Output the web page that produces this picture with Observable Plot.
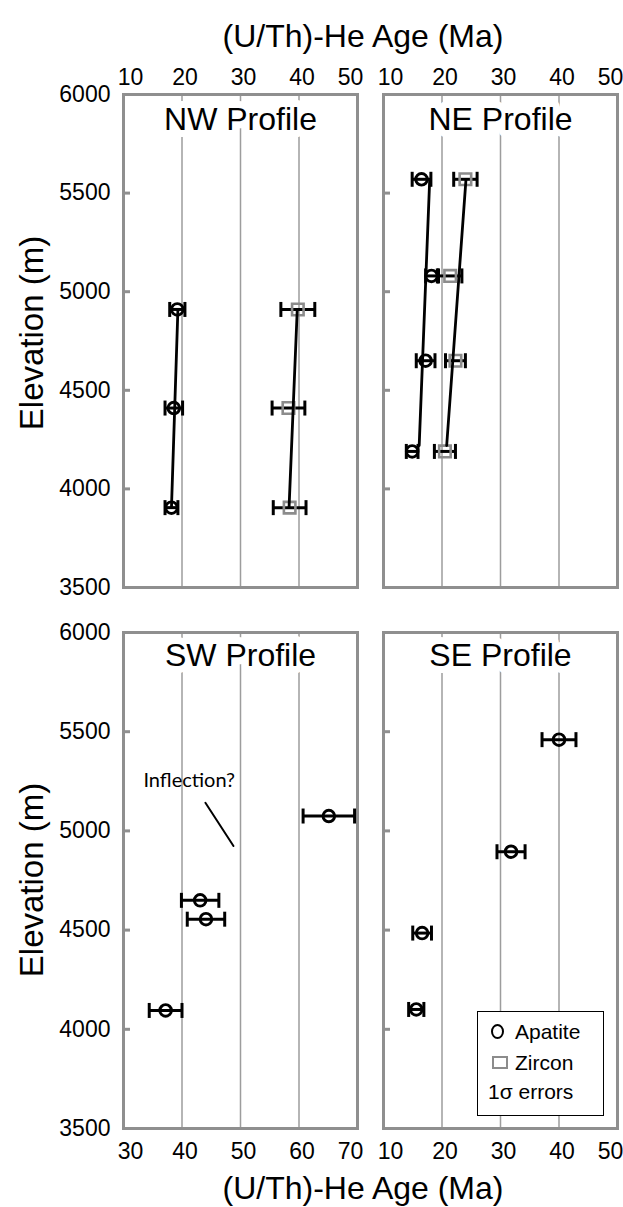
<!DOCTYPE html>
<html><head><meta charset="utf-8">
<script src="https://cdn.jsdelivr.net/npm/d3@7"></script>
<script src="https://cdn.jsdelivr.net/npm/@observablehq/plot@0.6"></script>
<style>
body{margin:0;background:#fff;}
#fig{position:relative;width:623px;height:1207px;overflow:hidden;font-family:"Liberation Sans",Arial,sans-serif;color:#000;}
.pane{position:absolute;}
.axtitle{position:absolute;font-size:32px;line-height:32px;white-space:nowrap;text-align:center;}
.ytitle{position:absolute;font-size:33px;line-height:34px;white-space:nowrap;text-align:center;width:320px;transform:translate(-50%,-50%) rotate(-90deg);}
#legend{position:absolute;left:477px;top:1011px;width:127px;height:105px;border:1.5px solid #000;background:#fff;font-size:21px;line-height:22px;box-sizing:border-box;}
#legend .row{position:absolute;white-space:nowrap;}
#legend .circ{position:absolute;width:9px;height:11px;border:2.8px solid #000;border-radius:50%;}
#legend .sq{position:absolute;width:12px;height:9px;border:2.5px solid #8c8c8c;}
</style></head><body><div id="fig"></div>
<script>
// ---------- data ----------
const xTicksA = [10, 20, 30, 40, 50];
const xTicksSW = [30, 40, 50, 60, 70];
const yTicks = [3500, 4000, 4500, 5000, 5500, 6000];
const panelTitles = ["NW Profile", "NE Profile", "SW Profile", "SE Profile"];
const axisTitleX = "(U/Th)-He Age (Ma)";
const axisTitleY = "Elevation (m)";
const legendNames = ["Apatite", "Zircon"];
const legendNote = "1σ errors";

// NW profile
const nwElev = [4910, 4410, 3905];
const nwApatiteAge = [19.2, 18.6, 18.2];
const nwApatiteErr = [1.3, 1.5, 1.1];
const nwZirconAge = [39.8, 38.2, 38.4];
const nwZirconErr = [2.9, 2.8, 2.8];
const nwFitElev = [4910, 3905];
const nwApatiteFitAge = [19.3, 18.2];
const nwZirconFitAge = [39.7, 38.3];

// NE profile
const neElev = [5570, 5080, 4650, 4190];
const neApatiteAge = [16.5, 18.2, 17.2, 14.9];
const neApatiteErr = [1.6, 1.0, 1.6, 1.0];
const neZirconAge = [24.0, 21.4, 22.3, 20.5];
const neZirconErr = [2.0, 2.0, 1.7, 1.8];
const neFitElev = [5570, 4220];
const neApatiteFitAge = [17.9, 16.1];
const neZirconFitAge = [24.1, 20.8];

// SW profile
const swElev = [5075, 4650, 4555, 4095];
const swApatiteAge = [65.1, 43.1, 44.1, 37.2];
const swApatiteErr = [4.4, 3.2, 3.2, 2.8];
const inflectionText = "Inflection?";
const inflectionTextAge = [33.4];
const inflectionTextElev = [5252];
const inflectionLineAge = [44.0, 48.8];
const inflectionLineElev = [5142, 4924];

// SE profile
const seElev = [5460, 4895, 4485, 4100];
const seApatiteAge = [40.0, 31.8, 16.6, 15.6];
const seApatiteErr = [2.9, 2.4, 1.6, 1.3];

// ---------- helpers ----------
const rows = (ages, errs, elevs) => ages.map((a, i) => ({age: a, err: errs ? errs[i] : 0, elev: elevs[i]}));
const capSymbol = {draw(ctx, size) { const r = Math.sqrt(size / Math.PI); ctx.moveTo(0, -r); ctx.lineTo(0, r); }};
const FRAME = "#8f8f8f";
const hasAxisMarks = typeof Plot.axisX === "function";

function xAxisMarks(ticks, anchor, pad) {
  const o = {anchor, tickSize: 0, tickPadding: pad, tickFormat: d => String(d), fontSize: 23, label: null};
  return [
    Plot.axisX([ticks[0]], {...o, dx: 7}),
    Plot.axisX(ticks.slice(1, -1), {...o, dx: 3}),
    Plot.axisX([ticks[ticks.length - 1]], {...o, dx: -7})
  ];
}

function panel(cfg) {
  const ap = cfg.apatite || [];
  const zr = cfg.zircon || [];
  const all = ap.concat(zr);
  const caps = all.flatMap(d => [{x: d.age - d.err, y: d.elev}, {x: d.age + d.err, y: d.elev}]);
  const plotW = cfg.width - cfg.mL - cfg.mR;
  const xPad = cfg.xAxis === "top" ? 10 : 14;
  const marks = [
    Plot.ruleX(cfg.grid, {stroke: "#9d9d9d", strokeWidth: 1.5}),
    Plot.text([cfg.title], {frameAnchor: "top", lineAnchor: "top", dy: cfg.titleDy, fontSize: 32,
      fill: "black", stroke: "white", strokeWidth: 14, strokeLinejoin: "round", paintOrder: "stroke"}),
    Plot.tickY(yTicks.slice(1, -1), {y: d => d, insetRight: plotW - 7, stroke: FRAME, strokeWidth: 3}),
    Plot.frame({stroke: FRAME, strokeWidth: 3})
  ];
  if (hasAxisMarks) marks.push(...xAxisMarks(cfg.xTicks, cfg.xAxis, xPad));
  if (cfg.extra) marks.push(...cfg.extra);
  marks.push(
    Plot.ruleY(all, {y: "elev", x1: d => d.age - d.err, x2: d => d.age + d.err, stroke: "black", strokeWidth: 3}),
    Plot.dot(caps, {x: "x", y: "y", symbol: capSymbol, r: 7.5, stroke: "black", strokeWidth: 3}),
    Plot.dot(ap, {x: "age", y: "elev", r: 5.8, stroke: "black", strokeWidth: 2.9, fill: "none"}),
    Plot.dot(zr, {x: "age", y: "elev", symbol: "square", r: 6.5, stroke: "#8c8c8c", strokeWidth: 2.6, fill: "none"})
  );
  for (const f of (cfg.fits || [])) marks.push(Plot.line(f, {x: "age", y: "elev", stroke: "black", strokeWidth: 2.8}));
  const xOpts = {domain: cfg.xDomain, ticks: cfg.xTicks, tickFormat: d => String(d), tickSize: 0, tickPadding: xPad, label: null};
  if (!hasAxisMarks) xOpts.axis = cfg.xAxis;
  const svg = Plot.plot({
    width: cfg.width, height: cfg.height,
    marginLeft: cfg.mL, marginRight: cfg.mR, marginTop: cfg.mT, marginBottom: cfg.mB,
    x: xOpts,
    y: {domain: [3500, 6000], ticks: yTicks, tickFormat: d => String(d), axis: cfg.yAxis ? "left" : null, tickSize: 0, tickPadding: 13, label: null},
    style: {fontFamily: "Liberation Sans, Arial, sans-serif", fontSize: "23px", background: "transparent", overflow: "visible", color: "black"},
    marks
  });
  const div = document.createElement("div");
  div.className = "pane";
  div.style.left = cfg.left + "px";
  div.style.top = cfg.top + "px";
  div.style.width = cfg.width + "px";
  div.appendChild(svg);
  return div;
}

const fig = document.getElementById("fig");

fig.appendChild(panel({
  left: 0, top: 50, width: 370, height: 560, mL: 123, mR: 13, mT: 44, mB: 23,
  xDomain: [10, 50], xTicks: xTicksA, grid: [20, 30, 40], xAxis: "top", yAxis: true,
  title: panelTitles[0], titleDy: 13,
  apatite: rows(nwApatiteAge, nwApatiteErr, nwElev),
  zircon: rows(nwZirconAge, nwZirconErr, nwElev),
  fits: [rows(nwApatiteFitAge, null, nwFitElev), rows(nwZirconFitAge, null, nwFitElev)]
}));
fig.appendChild(panel({
  left: 370, top: 50, width: 253, height: 560, mL: 13, mR: 6, mT: 44, mB: 23,
  xDomain: [10, 50], xTicks: xTicksA, grid: [20, 30, 40], xAxis: "top", yAxis: false,
  title: panelTitles[1], titleDy: 13,
  apatite: rows(neApatiteAge, neApatiteErr, neElev),
  zircon: rows(neZirconAge, neZirconErr, neElev),
  fits: [rows(neApatiteFitAge, null, neFitElev), rows(neZirconFitAge, null, neFitElev)]
}));
fig.appendChild(panel({
  left: 0, top: 610, width: 370, height: 560, mL: 123, mR: 13, mT: 22, mB: 42,
  xDomain: [30, 70], xTicks: xTicksSW, grid: [40, 50, 60], xAxis: "bottom", yAxis: true,
  title: panelTitles[2], titleDy: 11,
  apatite: rows(swApatiteAge, swApatiteErr, swElev),
  extra: [
    Plot.text(inflectionTextAge.map((a, i) => ({age: a, elev: inflectionTextElev[i], t: inflectionText})),
      {x: "age", y: "elev", text: "t", textAnchor: "start", fontSize: 20, fontFamily: "Lato, Open Sans, sans-serif", fill: "black"}),
    Plot.line(rows(inflectionLineAge, null, inflectionLineElev), {x: "age", y: "elev", stroke: "black", strokeWidth: 2})
  ]
}));
fig.appendChild(panel({
  left: 370, top: 610, width: 253, height: 560, mL: 13, mR: 6, mT: 22, mB: 42,
  xDomain: [10, 50], xTicks: xTicksA, grid: [20, 30, 40], xAxis: "bottom", yAxis: false,
  title: panelTitles[3], titleDy: 11,
  apatite: rows(seApatiteAge, seApatiteErr, seElev)
}));

// axis titles
function addDiv(cls, text, css) {
  const d = document.createElement("div");
  d.className = cls; d.textContent = text;
  Object.assign(d.style, css);
  fig.appendChild(d);
  return d;
}
addDiv("axtitle", axisTitleX, {left: "163px", width: "400px", top: "20px"});
addDiv("axtitle", axisTitleX, {left: "163px", width: "400px", top: "1172px"});
addDiv("ytitle", axisTitleY, {left: "32px", top: "333px"});
addDiv("ytitle", axisTitleY, {left: "32px", top: "880px"});

// legend
const lg = document.createElement("div");
lg.id = "legend";
lg.innerHTML =
  `<span class="circ" style="left:13px;top:12px"></span><span class="row" style="left:37px;top:9px">${legendNames[0]}</span>` +
  `<span class="sq" style="left:14px;top:44px"></span><span class="row" style="left:37px;top:40px">${legendNames[1]}</span>` +
  `<span class="row" style="left:10px;top:69px">${legendNote}</span>`;
fig.appendChild(lg);
</script></body></html>
